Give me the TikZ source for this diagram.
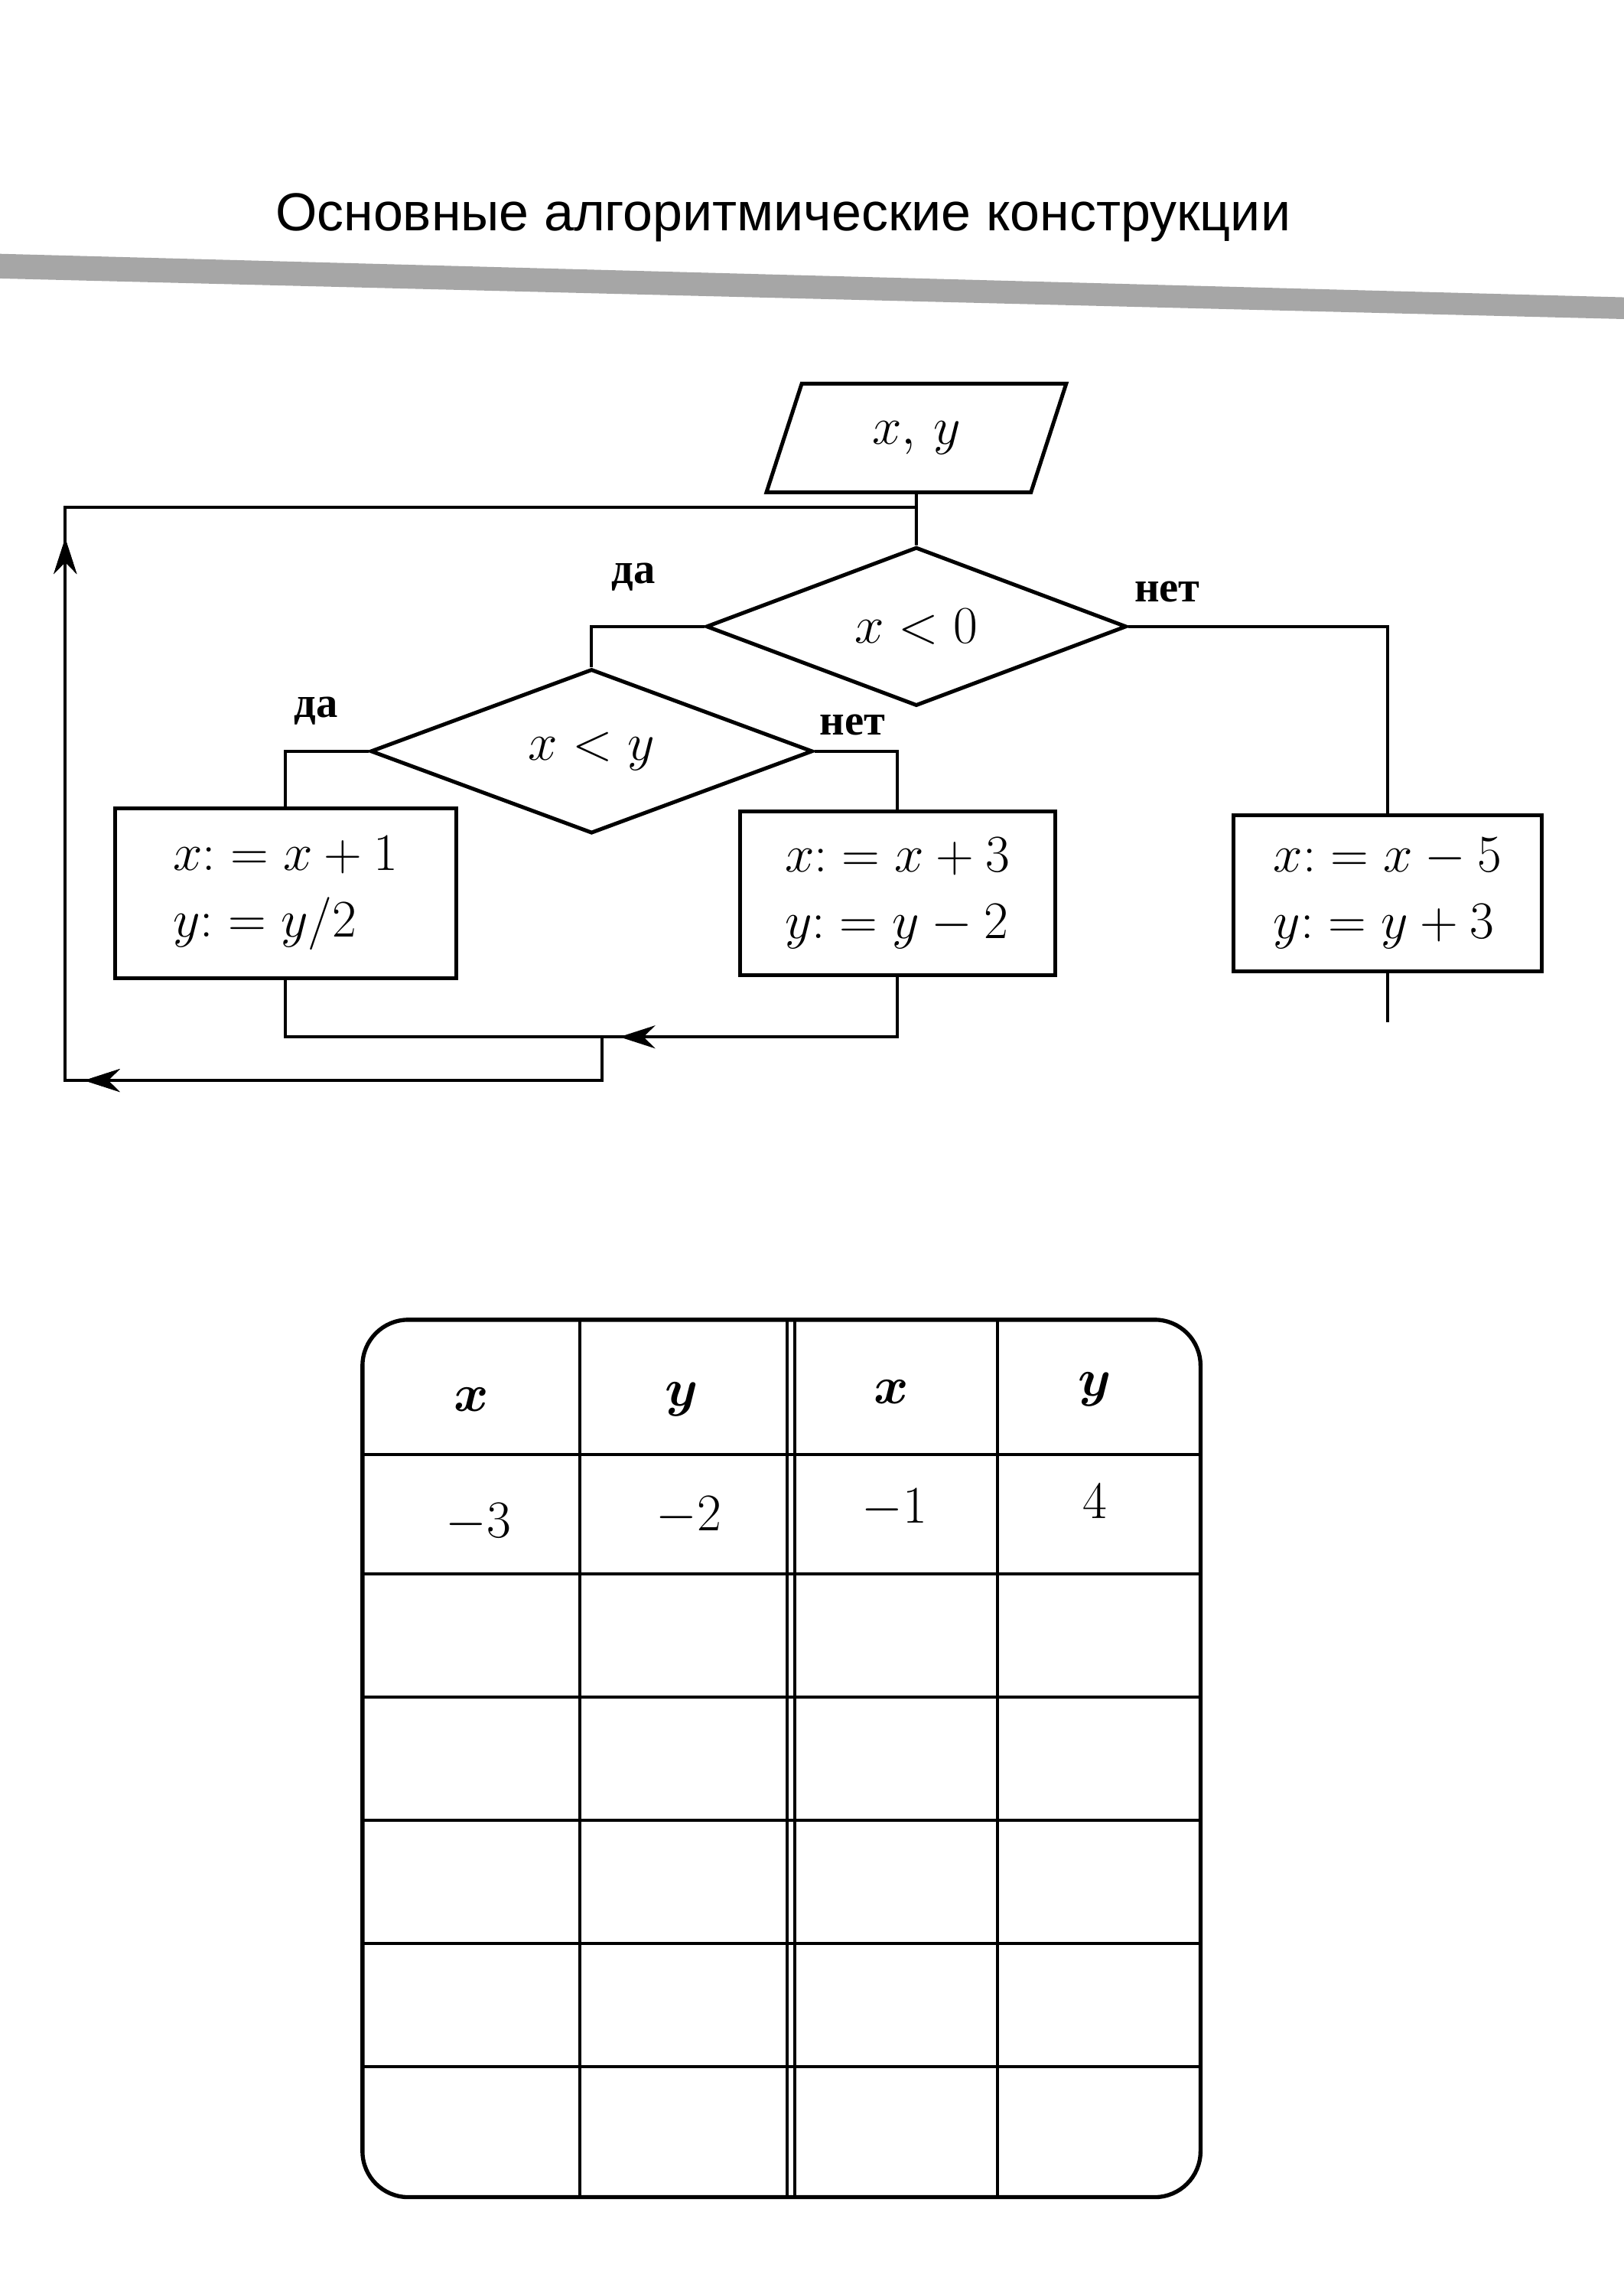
\documentclass[tikz,border=0pt]{standalone}
\usepackage{amsmath,amssymb}
\usepackage{fontspec}
\setsansfont{Liberation Sans}
\newfontfamily\cyrserif{Liberation Serif}
\usetikzlibrary{shapes.geometric,arrows.meta,decorations.markings}
\begin{document}
\begin{tikzpicture}[x=0.02cm,y=-0.02cm,
  line width=1.2pt,
  block/.style={draw, rectangle, line width=1.5pt, align=left, font=\fontsize{20}{26}\selectfont},
  decide/.style={draw, diamond, line width=1.5pt, inner sep=0pt, font=\fontsize{20}{24}\selectfont},
  io/.style={draw, trapezium, trapezium left angle=72, trapezium right angle=108, line width=1.5pt, font=\fontsize{20}{24}\selectfont},
  answer/.style={font=\cyrserif\fontsize{17}{20}\selectfont\bfseries},
  cell/.style={font=\fontsize{20}{24}\selectfont},
  midarrow/.style={postaction={decorate}, decoration={markings, mark=at position #1 with {\arrow{Stealth[length=14pt,width=9pt]}}}},
  ]
\useasboundingbox[fill=white] (0,0) rectangle (1120,1568);
% heading
\node[font=\sffamily\fontsize{21}{26}\selectfont] (heading) at (540,150) {Основные алгоритмические конструкции};
\fill[gray!70] (0,175) -- (1120,205) -- (1120,220) -- (0,192) -- cycle;
% flow chart
\node[io, minimum width=4.1cm, minimum height=1.5cm] (input) at (632,302) {$x,\,y$};
\node[decide, minimum width=5.8cm, minimum height=1.9cm] (cond1) at (632,432) {$x<0$};
\node[decide, minimum width=6.1cm, minimum height=1.9cm] (cond2) at (408,518) {$x<y$};
\node[block, minimum width=4.7cm, minimum height=2.35cm] (step1) at (197,616) {$x{:}=x+1$\\$y{:}=y/2$};
\node[block, minimum width=4.35cm, minimum height=2.25cm] (step2) at (619,616) {$x{:}=x+3$\\$y{:}=y-2$};
\node[block, minimum width=4.25cm, minimum height=2.15cm] (step3) at (957,616) {$x{:}=x-5$\\$y{:}=y+3$};
\coordinate (join) at (415,715);
\coordinate (loopTop) at (632,350);
\coordinate (exit) at (957,705);

\node[answer] at (437,398) {да};
\node[answer] at (805,408) {нет};
\node[answer] at (218,490) {да};
\node[answer] at (588,500) {нет};

\draw (input.south) -- (cond1.north);
\draw (cond1.west) -| (cond2.north);
\draw (cond1.east) -| (step3.north);
\draw (cond2.west) -| (step1.north);
\draw (cond2.east) -| (step2.north);
\draw (step3.south) -- (exit);
\draw (step1.south) |- (join);
\draw[midarrow=0.95] (step2.south) |- (join);
\draw[midarrow=0.28, midarrow=0.56] (join) -- (415,745) -- (45,745) -- (45,350) -- (loopTop);
% table
\draw[line width=1.6pt, rounded corners=18pt] (250,910) rectangle (828,1515);
\foreach \xc in {400,543,548,688}
  \draw[line width=1.2pt] (\xc,910) -- (\xc,1515);
\foreach \yr in {1003,1085,1170,1255,1340,1425}
  \draw[line width=1.2pt] (250,\yr) -- (828,\yr);
\node[cell] (h1) at (325,965) {$\boldsymbol{x}$};
\node[cell] (h2) at (470,965) {$\boldsymbol{y}$};
\node[cell] (h3) at (615,960) {$\boldsymbol{x}$};
\node[cell] (h4) at (755,958) {$\boldsymbol{y}$};
\node[cell] (v1) at (330,1050) {$-3$};
\node[cell] (v2) at (475,1045) {$-2$};
\node[cell] (v3) at (617,1040) {$-1$};
\node[cell] (v4) at (755,1035) {$4$};
\end{tikzpicture}
\end{document}
